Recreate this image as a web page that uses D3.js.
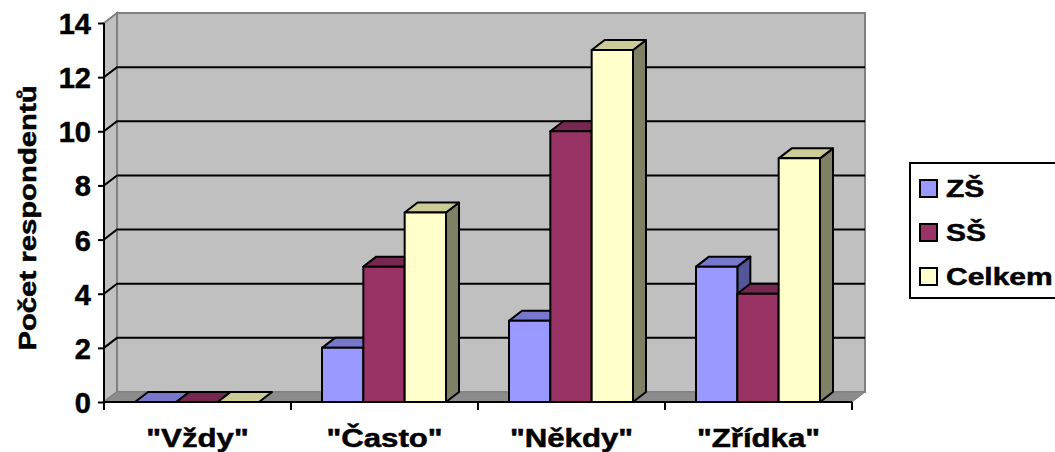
<!DOCTYPE html>
<html>
<head>
<meta charset="utf-8">
<script src="https://cdn.jsdelivr.net/npm/d3@7"></script>
<style>
  html, body { margin: 0; padding: 0; background: #fff; }
  svg text { font-family: "Liberation Sans", Arial, sans-serif; font-weight: bold; fill: #000; stroke: #000; stroke-width: 0.5px; }
</style>
</head>
<body>
<svg id="chart" width="1055" height="452"></svg>
<script>
// Survey answers by school level
const categories = ['"Vždy"', '"Často"', '"Někdy"', '"Zřídka"'];
const seriesNames = ["ZŠ", "SŠ", "Celkem"];
const valuesZS = [0, 2, 3, 5];
const valuesSS = [0, 5, 10, 4];
const valuesCelkem = [0, 7, 13, 9];
const yTicks = [0, 2, 4, 6, 8, 10, 12, 14];
const yTitle = "Počet respondentů";

// face colours per series: front, top, side
const palette = [
  { front: "#9999FF", top: "#7777CC", side: "#555599" },
  { front: "#993366", top: "#772850", side: "#5C1F3F" },
  { front: "#FFFFCC", top: "#CCCC99", side: "#808066" }
];

const svg = d3.select("#chart");
const DX = 13, DY = 10;           // 3D depth offset
const STRETCH = 1.2;              // wide lettering for titles and labels

const x = d3.scaleBand().domain(categories).range([104, 852]).padding(0);
const xs = d3.scaleBand().domain(seriesNames).range([31, 155]).padding(0);
const y = d3.scaleLinear().domain([0, 14]).range([402, 23]);

const y0 = y(0), yTop = y(14);
const xL = x.range()[0], xR = x.range()[1];

const poly = pts => pts.map(p => p.join(",")).join(" ");

// back wall
svg.append("polygon")
  .attr("points", poly([[xL + DX, yTop - DY], [xR + DX, yTop - DY], [xR + DX, y0 - DY], [xL + DX, y0 - DY]]))
  .attr("fill", "#C0C0C0").attr("stroke", "#808080").attr("stroke-width", 2);
// left wall
svg.append("polygon")
  .attr("points", poly([[xL, yTop], [xL + DX, yTop - DY], [xL + DX, y0 - DY], [xL, y0]]))
  .attr("fill", "#C0C0C0").attr("stroke", "#808080").attr("stroke-width", 2);
// floor
svg.append("polygon")
  .attr("points", poly([[xL, y0], [xL + DX, y0 - DY], [xR + DX, y0 - DY], [xR, y0]]))
  .attr("fill", "#8C8C8C").attr("stroke", "#808080").attr("stroke-width", 1);

// gridlines on walls
const grid = yTicks.filter(v => v > 0 && v < 14);
svg.append("g").selectAll("path").data(grid).join("path")
  .attr("d", v => `M${xL},${y(v)}L${xL + DX},${y(v) - DY}L${xR + DX},${y(v) - DY}`)
  .attr("fill", "none").attr("stroke", "#000").attr("stroke-width", 2);

// bars
const seriesValues = [valuesZS, valuesSS, valuesCelkem];
const bars = [];
categories.forEach((c, ci) => {
  seriesNames.forEach((s, si) => {
    bars.push({ c, s, si, v: seriesValues[si][ci] });
  });
});

const gBars = svg.append("g").attr("stroke", "#000").attr("stroke-width", 2).attr("stroke-linejoin", "round");
bars.forEach(b => {
  const x0 = x(b.c) + xs(b.s), x1 = x0 + xs.bandwidth();
  const yv = y(b.v);
  const col = palette[b.si];
  if (b.v > 0) {
    gBars.append("polygon")
      .attr("points", poly([[x1, yv], [x1 + DX, yv - DY], [x1 + DX, y0 - DY], [x1, y0]]))
      .attr("fill", col.side);
  }
  gBars.append("polygon")
    .attr("points", poly([[x0, yv], [x1, yv], [x1 + DX, yv - DY], [x0 + DX, yv - DY]]))
    .attr("fill", col.top);
  if (b.v > 0) {
    gBars.append("rect")
      .attr("x", x0).attr("y", yv).attr("width", x1 - x0).attr("height", y0 - yv)
      .attr("fill", col.front);
  }
});

// y axis
const yAxis = svg.append("g").attr("transform", `translate(${xL},0)`)
  .call(d3.axisLeft(y).tickValues(yTicks).tickSize(6).tickPadding(7).tickFormat(d3.format("d")));
yAxis.select(".domain").attr("stroke", "#000").attr("stroke-width", 2).attr("d", `M0,${yTop}V${y0}`);
yAxis.selectAll(".tick line").attr("stroke", "#000").attr("stroke-width", 2);
yAxis.selectAll(".tick text").attr("font-size", 29).attr("font-family", "Liberation Sans, Arial, sans-serif")
  .attr("font-weight", "bold").attr("fill", "#000").attr("dy", "0.36em");

// x axis
const xAxis = svg.append("g").attr("transform", `translate(0,${y0})`);
xAxis.append("path").attr("d", `M${xL},0H${xR}`).attr("stroke", "#000").attr("stroke-width", 2);
const bounds = categories.map(c => x(c)).concat([xR]);
xAxis.selectAll("line").data(bounds).join("line")
  .attr("x1", d => d).attr("x2", d => d).attr("y1", 0).attr("y2", 8)
  .attr("stroke", "#000").attr("stroke-width", 2);
xAxis.selectAll("g.lab").data(categories).join("g").attr("class", "lab")
  .attr("transform", c => `translate(${x(c) + x.bandwidth() / 2},45) scale(${STRETCH},1)`)
  .append("text").attr("text-anchor", "middle").attr("font-size", 26).text(c => c);

// y title
svg.append("g").attr("transform", `translate(36,218) rotate(-90) scale(1.22,1)`)
  .append("text").attr("text-anchor", "middle").attr("font-size", 24).text(yTitle);

// legend
const leg = svg.append("g");
leg.append("rect").attr("x", 910).attr("y", 163).attr("width", 170).attr("height", 135)
  .attr("fill", "#fff").attr("stroke", "#000").attr("stroke-width", 2);
const rows = leg.selectAll("g.row").data(seriesNames).join("g").attr("class", "row")
  .attr("transform", (d, i) => `translate(0,${188 + i * 44})`);
rows.append("rect").attr("x", 920).attr("y", -8).attr("width", 17).attr("height", 17)
  .attr("fill", (d, i) => palette[i].front).attr("stroke", "#000").attr("stroke-width", 2);
rows.append("g").attr("transform", `translate(946,9) scale(1.25,1)`)
  .append("text").attr("font-size", 24).text(d => d);
</script>
</body>
</html>
